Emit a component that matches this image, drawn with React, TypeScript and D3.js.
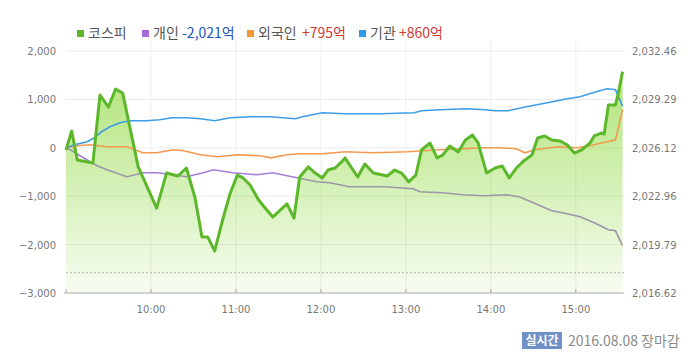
import React from "react";
import * as d3 from "d3";

// ---------- DATA ----------
const leftTicks = [2000, 1000, 0, -1000, -2000, -3000];
const rightTicks = [2016.62, 2019.79, 2022.96, 2026.12, 2029.29, 2032.46];
const hourTicks = ["10:00", "11:00", "12:00", "13:00", "14:00", "15:00"];
const prevClose = 2017.94;

const kospiTimes = ["9:00","9:04","9:08","9:19","9:24","9:30","9:35","9:40","9:51","10:04","10:11","10:19","10:25","10:31","10:36","10:40","10:45","10:50","10:56","11:01","11:05","11:10","11:16","11:20","11:26","11:36","11:41","11:45","11:51","11:56","12:01","12:05","12:10","12:16","12:17","12:26","12:31","12:37","12:47","12:52","12:57","13:02","13:07","13:11","13:17","13:22","13:26","13:31","13:37","13:42","13:47","13:51","13:57","14:03","14:08","14:13","14:18","14:24","14:29","14:33","14:38","14:43","14:49","14:54","14:59","15:04","15:10","15:13","15:18","15:20","15:23","15:28","15:30","15:33"];
const kospiValues = [2025.98,2027.22,2025.33,2025.13,2029.58,2028.79,2029.97,2029.71,2024.87,2022.18,2024.47,2024.28,2024.80,2022.90,2020.29,2020.29,2019.37,2021.20,2023.17,2024.34,2024.15,2023.69,2022.71,2022.25,2021.59,2022.45,2021.53,2024.21,2024.87,2024.47,2024.15,2024.67,2024.80,2025.33,2025.46,2024.21,2025.06,2024.47,2024.28,2024.67,2024.47,2023.89,2024.34,2025.98,2026.44,2025.46,2025.65,2026.24,2025.85,2026.63,2026.96,2026.44,2024.47,2024.80,2024.93,2024.15,2024.80,2025.33,2025.65,2026.77,2026.90,2026.63,2026.57,2026.31,2025.78,2025.98,2026.44,2026.90,2027.09,2027.03,2028.93,2028.93,2029.71,2031.11];

const personTimes = ["9:00","9:03","9:10","9:17","9:22","9:29","9:37","9:43","9:49","9:54","10:04","10:16","10:25","10:37","10:44","10:58","11:15","11:26","11:43","11:57","12:06","12:17","12:20","12:45","13:05","13:10","13:26","13:40","13:56","14:11","14:20","14:30","14:43","14:54","15:03","15:13","15:23","15:28","15:33"];
const personValues = [0,-41,-165,-289,-372,-455,-537,-599,-558,-517,-517,-558,-599,-517,-455,-517,-558,-517,-620,-702,-723,-785,-806,-806,-847,-909,-930,-971,-992,-971,-1012,-1136,-1302,-1364,-1426,-1550,-1694,-1715,-2021];

const foreignTimes = ["9:00","9:08","9:17","9:29","9:43","9:47","9:54","10:04","10:16","10:23","10:35","10:47","11:01","11:17","11:25","11:36","11:45","12:01","12:17","12:37","13:01","13:24","13:56","14:06","14:18","14:24","14:31","14:47","15:01","15:10","15:22","15:28","15:33"];
const foreignValues = [0,41,62,21,21,-21,-103,-103,-41,-62,-145,-186,-145,-165,-207,-145,-124,-124,-83,-103,-83,-41,0,0,-21,-103,-41,21,0,41,124,165,795];

const instTimes = ["9:00","9:06","9:15","9:20","9:25","9:31","9:38","9:45","9:57","10:06","10:15","10:25","10:35","10:45","10:56","11:10","11:24","11:42","11:47","12:01","12:17","12:28","12:42","13:06","13:11","13:24","13:43","13:56","14:03","14:12","14:25","14:40","14:54","15:03","15:12","15:22","15:28","15:33"];
const instValues = [0,62,124,207,331,434,517,558,558,579,620,620,599,558,620,640,640,599,640,723,702,702,702,723,764,785,806,785,764,764,847,930,1012,1054,1136,1219,1198,860];

const legendNames = ["코스피", "개인", "외국인", "기관"];
const legendNets = ["", "-2,021억", "+795억", "+860억"];

// ---------- HELPERS ----------
const mins = (t: string) => {
  const [h, m] = t.split(":").map(Number);
  return (h - 9) * 60 + m;
};
const zip = (ts: string[], vs: number[]) => ts.map((t, i) => ({ t: mins(t), v: vs[i] }));

const W = 700, H = 361;
const PL = 66, PR = 624, PT = 51, PB = 293;

export default function App() {
  const x = d3.scaleLinear().domain([0, 394]).range([PL, PR]);
  const yL = d3.scaleLinear().domain([-3000, 2000]).range([PB, PT]);
  const yR = d3.scaleLinear().domain([2016.62, 2032.46]).range([PB, PT]);

  const kospi = zip(kospiTimes, kospiValues);
  const person = zip(personTimes, personValues);
  const foreign = zip(foreignTimes, foreignValues);
  const inst = zip(instTimes, instValues);

  type P = { t: number; v: number };
  const lineR = d3.line<P>().x((d) => x(d.t)).y((d) => yR(d.v));
  const lineL = d3.line<P>().x((d) => x(d.t)).y((d) => yL(d.v));
  const areaBelow = d3.area<P>().x((d) => x(d.t)).y0(PB).y1((d) => yR(d.v));
  const areaAbove = d3.area<P>().x((d) => x(d.t)).y0(0).y1((d) => yR(d.v));

  const font = "'DejaVu Sans', Verdana, sans-serif";
  const kfont = "'Noto Sans CJK KR', 'DejaVu Sans', sans-serif";
  const colors = ["#5cb82a", "#a36bd7", "#f39633", "#2f9be6"];
  const netColors = ["", "#2255bb", "#d23a33", "#d23a33"];
  const legendX = [77, 142, 247, 359];
  const nameW = [40, 25, 40, 25];

  return (
    <svg width={W} height={H} style={{ position: "absolute", left: 0, top: 0, background: "#fff" }}>
      <defs>
        <linearGradient id="kfill" gradientUnits="userSpaceOnUse" x1="0" y1={PT} x2="0" y2={PB}>
          <stop offset="0" stopColor="#7ed321" stopOpacity="0.66" />
          <stop offset="1" stopColor="#7ed321" stopOpacity="0.06" />
        </linearGradient>
        <clipPath id="below">
          <path d={areaBelow(kospi) || ""} />
        </clipPath>
        <clipPath id="above">
          <path d={areaAbove(kospi) || ""} />
        </clipPath>
      </defs>

      {/* horizontal grid */}
      {leftTicks.slice(0, -1).map((v) => (
        <line key={"h" + v} x1={PL} x2={PR} y1={yL(v)} y2={yL(v)} stroke="#ebebeb" />
      ))}
      {/* vertical grid */}
      {hourTicks.map((h) => (
        <line key={"v" + h} x1={x(mins(h))} x2={x(mins(h))} y1={PT - 10} y2={PB} stroke="#ededed" />
      ))}

      {/* area */}
      <path d={areaBelow(kospi) || ""} fill="url(#kfill)" />

      {/* previous close dotted */}
      <line x1={PL} x2={PR} y1={yR(prevClose)} y2={yR(prevClose)} stroke="#b0b0b0" strokeDasharray="2,2" />

      {/* bottom axis */}
      <line x1={PL - 2} x2={PR} y1={PB} y2={PB} stroke="#a8a8a8" />
      {[0, ...hourTicks.map(mins)].map((m) => (
        <line key={"t" + m} x1={x(m)} x2={x(m)} y1={PB - 4} y2={PB} stroke="#a8a8a8" />
      ))}

      {/* series */}
      <path d={lineL(person) || ""} fill="none" stroke="#a77fd8" strokeWidth={1.6} clipPath="url(#above)" />
      <path d={lineL(person) || ""} fill="none" stroke="#9a97a8" strokeWidth={1.6} clipPath="url(#below)" />
      <path d={lineL(foreign) || ""} fill="none" stroke="#f39a4e" strokeWidth={1.6} />
      <path d={lineL(inst) || ""} fill="none" stroke="#3c9ee6" strokeWidth={1.6} />
      <path d={lineR(kospi) || ""} fill="none" stroke="#5cb82a" strokeWidth={3} strokeLinejoin="round" />

      {/* left axis labels */}
      {leftTicks.map((v) => (
        <text key={"l" + v} x={56} y={yL(v) + 4} textAnchor="end" fontFamily={font} fontSize={10} fill="#777">
          {d3.format(",")(v)}
        </text>
      ))}
      {/* right axis labels */}
      {rightTicks.map((v) => (
        <text key={"r" + v} x={632} y={yR(v) + 4} textAnchor="start" fontFamily={font} fontSize={10} fill="#777">
          {d3.format(",.2f")(v)}
        </text>
      ))}
      {/* x labels */}
      {hourTicks.map((h) => (
        <text key={"x" + h} x={x(mins(h))} y={313} textAnchor="middle" fontFamily={font} fontSize={10} fill="#777">
          {h}
        </text>
      ))}

      {/* legend */}
      {legendNames.map((n, i) => (
        <g key={"lg" + n}>
          <rect x={legendX[i]} y={30} width={7} height={7} fill={colors[i]} />
          <text x={legendX[i] + 11} y={37.5} fontFamily={kfont} fontSize={14} fill="#555">
            {n}
          </text>
          {legendNets[i] && (
            <text x={legendX[i] + 11 + nameW[i] + 4} y={37.5} fontFamily={kfont} fontSize={14} fill={netColors[i]}>
              {legendNets[i]}
            </text>
          )}
        </g>
      ))}

      {/* footer */}
      <rect x={522} y={332} width={40} height={17} fill="#7090c8" />
      <text x={542} y={345} textAnchor="middle" fontFamily={kfont} fontSize={12} fontWeight="bold" fill="#fff">
        실시간
      </text>
      <text x={568} y={346} fontFamily={kfont} fontSize={14} fill="#8a8a8a">
        2016.08.08 장마감
      </text>
    </svg>
  );
}
